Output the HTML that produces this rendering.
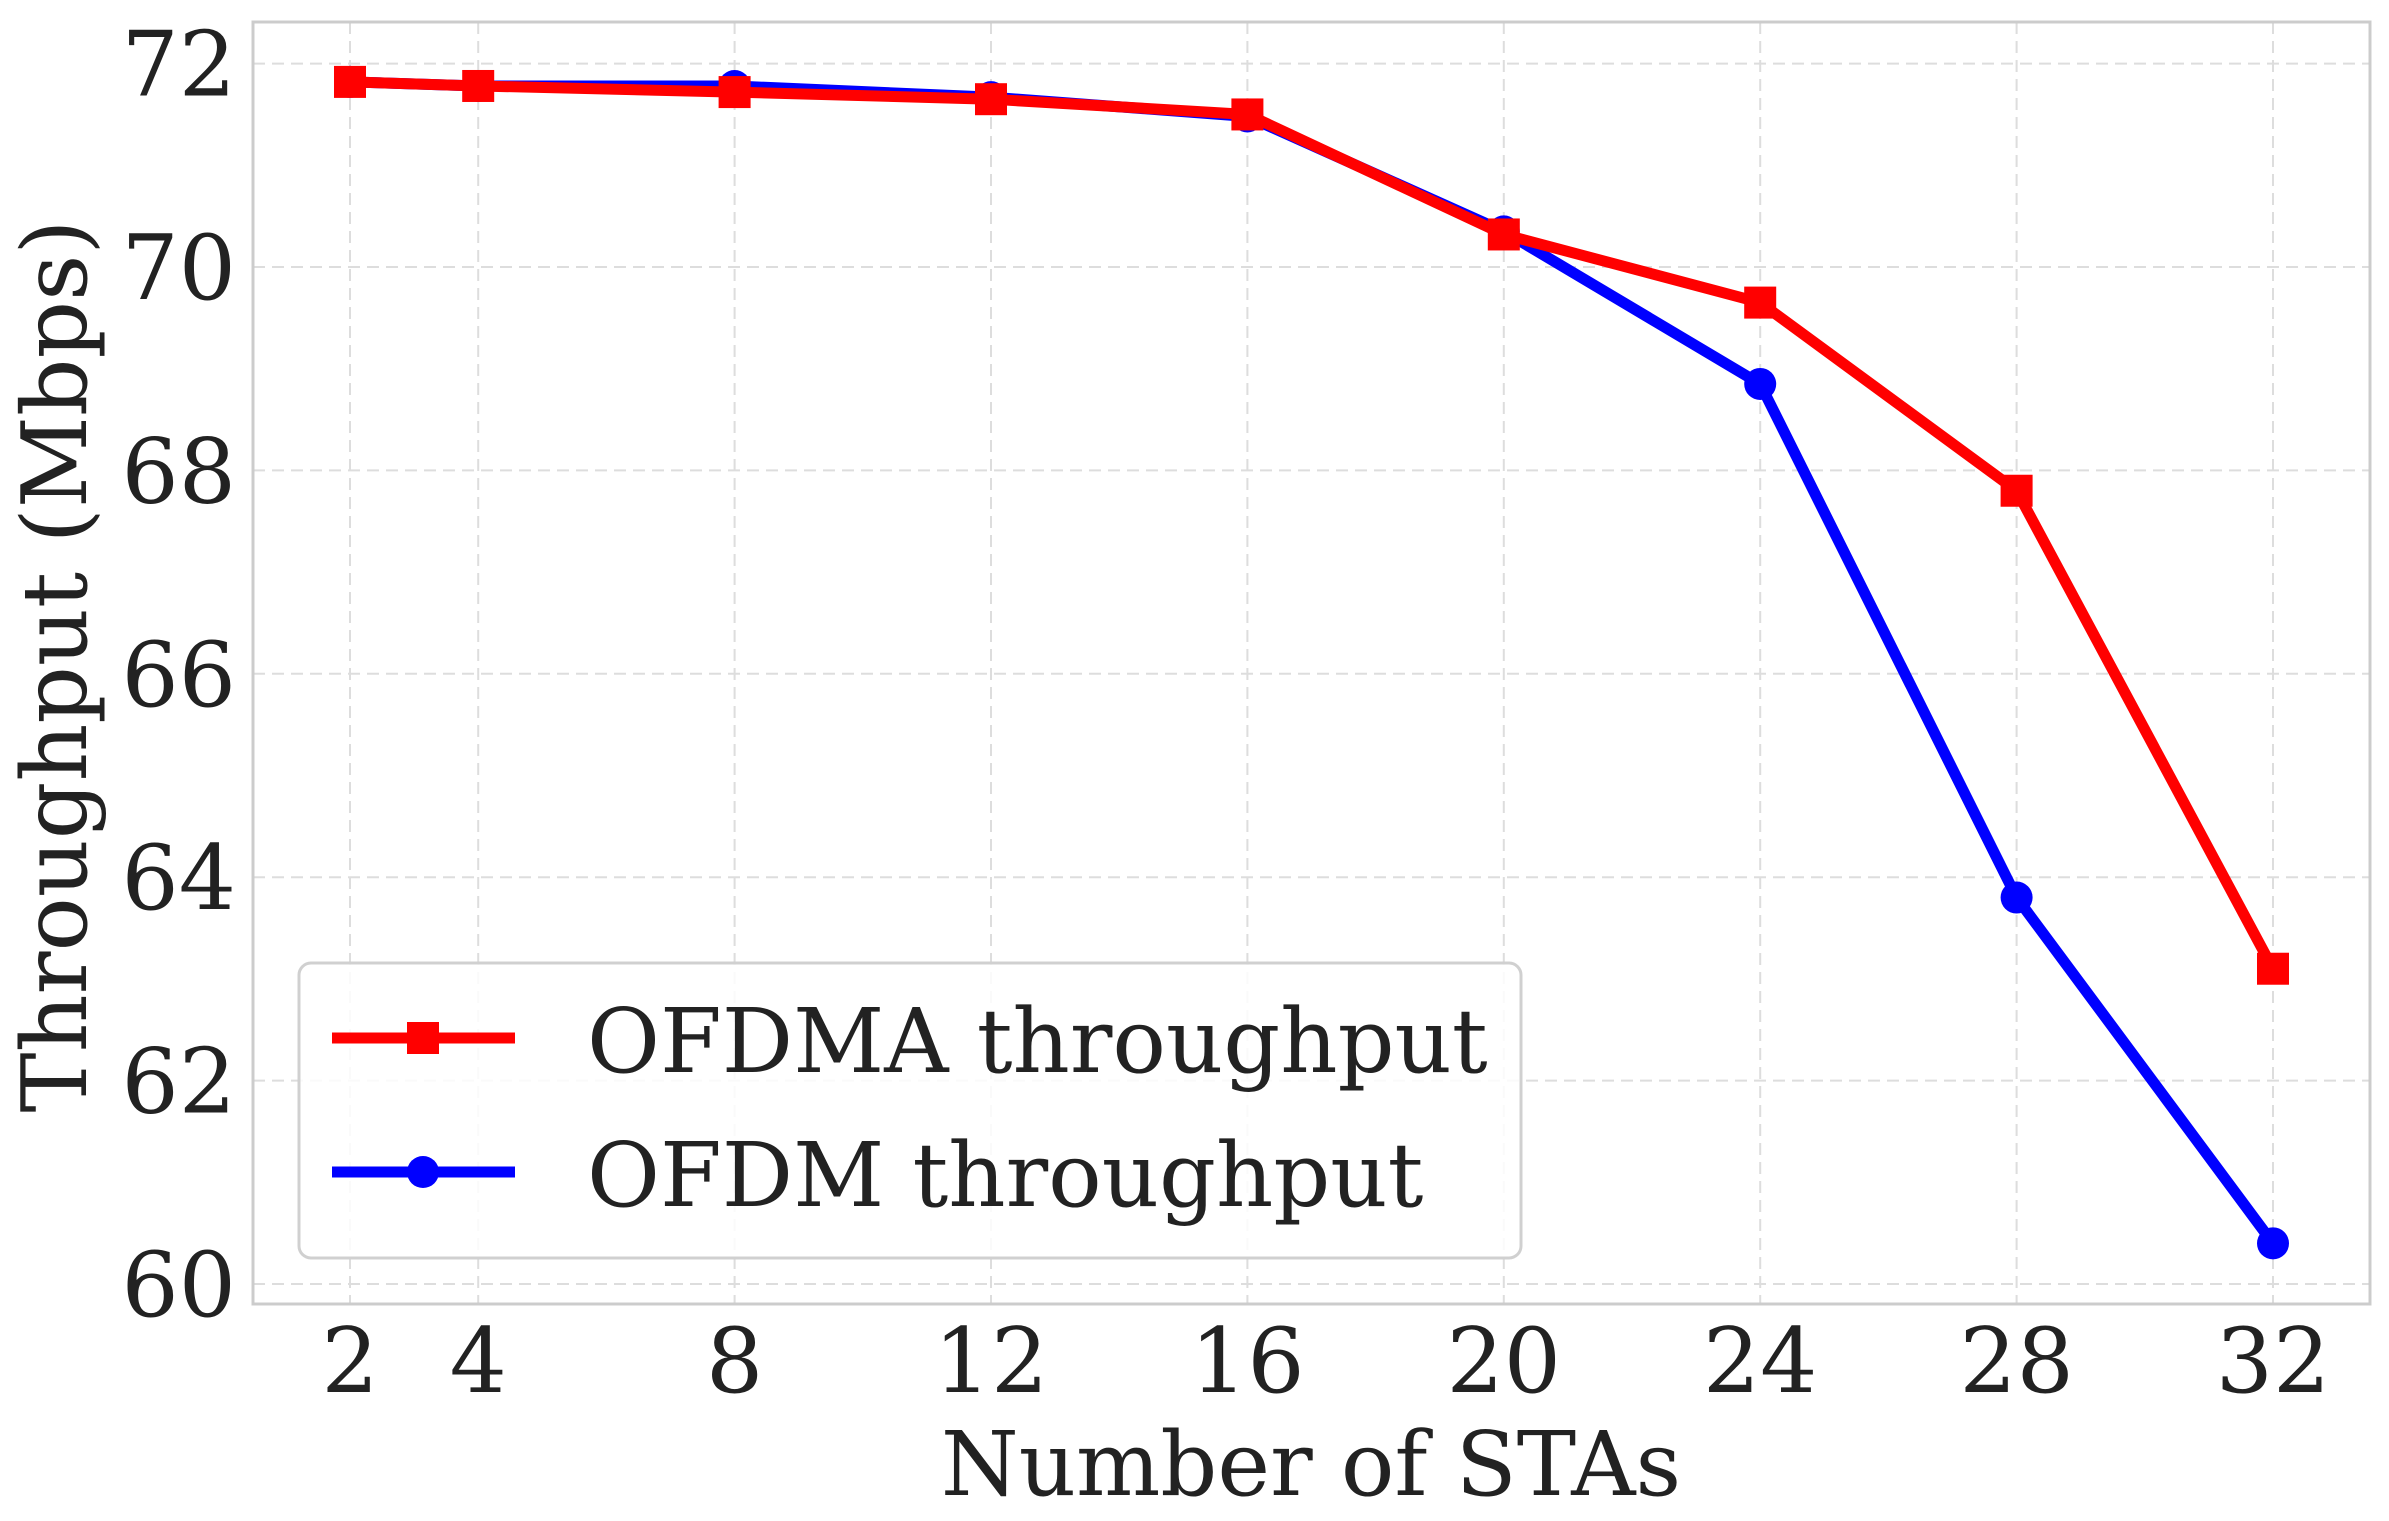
<!DOCTYPE html>
<html><head><meta charset="utf-8"><style>
html,body{margin:0;padding:0;background:#fff;}
svg{display:block;font-family:"DejaVu Serif","Liberation Serif",serif;}
</style></head><body>
<svg id="chart" width="2389" height="1521" viewBox="0 0 2389 1521">
<g id="grid"></g>
<rect x="253" y="22" width="2117" height="1282" fill="none" stroke="#cccccc" stroke-width="3"/>
<g id="ticks"></g>
<g id="series"></g>
<text x="1311" y="1495" font-size="89" text-anchor="middle" fill="#222">Number of STAs</text>
<text transform="translate(86,666) rotate(-90)" font-size="90" text-anchor="middle" fill="#222">Throughput (Mbps)</text>
<g>
<rect x="299" y="963" width="1222" height="295" rx="12" fill="#fff" fill-opacity="0.85" stroke="#d0d0d0" stroke-width="3"/>
<g>
<line x1="332" y1="1038" x2="515" y2="1038" stroke="#ff0000" stroke-width="11"/>
<rect x="407" y="1022" width="32" height="32" fill="#ff0000"/>
<text x="587" y="1072" font-size="89" fill="#222">OFDMA throughput</text>
</g>
<g>
<line x1="332" y1="1172" x2="515" y2="1172" stroke="#0000ff" stroke-width="11"/>
<circle cx="423" cy="1172" r="16" fill="#0000ff"/>
<text x="587" y="1206" font-size="89" fill="#222">OFDM throughput</text>
</g>
</g>
</svg>
<script>
const categories = [2, 4, 8, 12, 16, 20, 24, 28, 32];
const ofdmaValues = [71.82, 71.78, 71.72, 71.65, 71.50, 70.32, 69.65, 67.80, 63.10];
const ofdmValues = [71.82, 71.78, 71.78, 71.67, 71.48, 70.35, 68.85, 63.80, 60.40];
const yTicks = [60, 62, 64, 66, 68, 70, 72];

const NS = "http://www.w3.org/2000/svg";
function xs(v){ return 350 + (v - 2) * 64.1; }
function ys(v){ return 1284 - (v - 60) * 101.7; }
function mk(tag, attrs, parent){
  const e = document.createElementNS(NS, tag);
  for (const k in attrs) e.setAttribute(k, attrs[k]);
  parent.appendChild(e); return e;
}
const grid = document.getElementById('grid');
const ticks = document.getElementById('ticks');
const series = document.getElementById('series');

categories.forEach(c => {
  const l = mk('line', {x1: xs(c), x2: xs(c), y1: 22, y2: 1304, stroke: '#dddddd', 'stroke-width': 2, 'stroke-dasharray': '12,7'}, grid);
  
  
  const t = mk('text', {x: xs(c), y: 1392, 'font-size': 90, 'text-anchor': 'middle', fill: '#222'}, ticks);
  t.textContent = c;
  
  
});
yTicks.forEach(v => {
  const l = mk('line', {x1: 253, x2: 2370, y1: ys(v), y2: ys(v), stroke: '#dddddd', 'stroke-width': 2, 'stroke-dasharray': '12,7'}, grid);
  
  
  const t = mk('text', {x: 236, y: ys(v) + 32, 'font-size': 90, 'text-anchor': 'end', fill: '#222'}, ticks);
  t.textContent = v;
  
  
});

function drawSeries(vals, color, shape, name){
  const pts = categories.map((c, i) => xs(c) + ',' + ys(vals[i])).join(' ');
  const pl = mk('polyline', {points: pts, fill: 'none', stroke: color, 'stroke-width': 11, 'stroke-linejoin': 'round'}, series);
  
  
  categories.forEach((c, i) => {
    let m;
    if (shape === 'square') m = mk('rect', {x: xs(c) - 16, y: ys(vals[i]) - 16, width: 32, height: 32, fill: color}, series);
    else m = mk('circle', {cx: xs(c), cy: ys(vals[i]), r: 16, fill: color}, series);
    
    
  });
}
drawSeries(ofdmValues, '#0000ff', 'circle', 'ofdm');
drawSeries(ofdmaValues, '#ff0000', 'square', 'ofdma');
</script>
</body></html>
